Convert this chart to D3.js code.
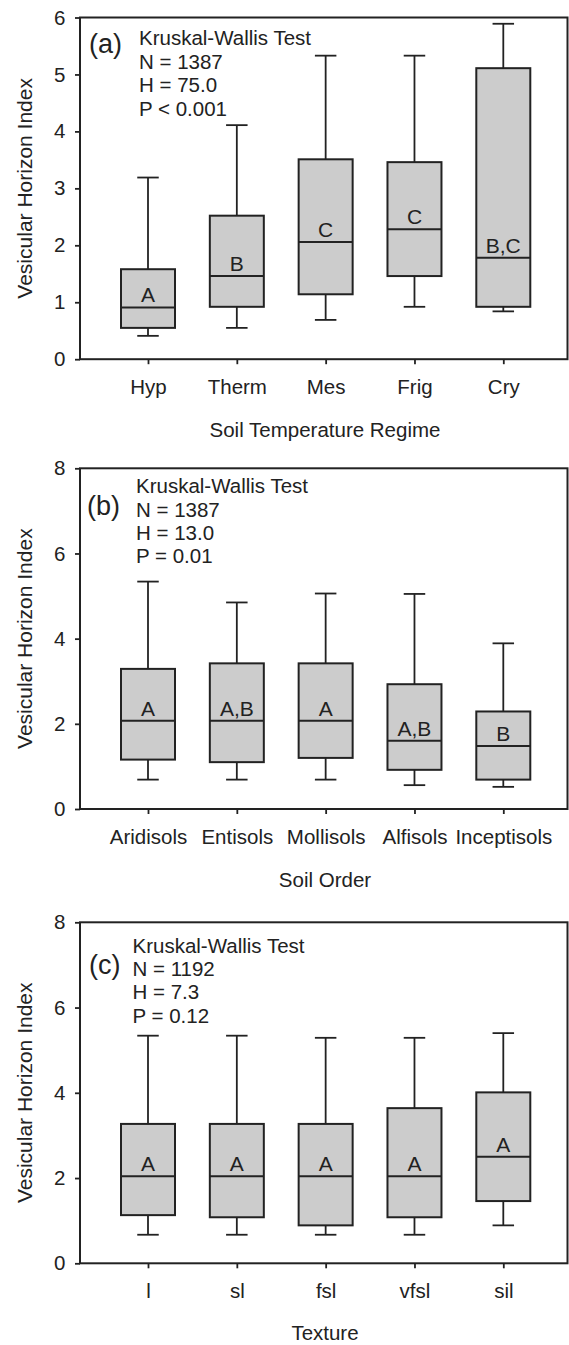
<!DOCTYPE html>
<html>
<head>
<meta charset="utf-8">
<script src="https://cdn.jsdelivr.net/npm/d3@7"></script>
<style>
  html, body { margin: 0; padding: 0; background: #fff; }
  svg { display: block; font-family: "Liberation Sans", Arial, sans-serif; }
</style>
</head>
<body>
<svg id="chart" width="569" height="1345"></svg>
<script>
// ---------- DATA ----------
const categoriesA = ["Hyp", "Therm", "Mes", "Frig", "Cry"];
const whiskerHighA = [3.19, 4.11, 5.33, 5.33, 5.89];
const q3A          = [1.58, 2.52, 3.51, 3.46, 5.11];
const medianA      = [0.91, 1.46, 2.06, 2.28, 1.78];
const q1A          = [0.55, 0.92, 1.14, 1.46, 0.92];
const whiskerLowA  = [0.41, 0.55, 0.69, 0.92, 0.84];
const lettersA     = ["A", "B", "C", "C", "B,C"];
const yTicksA      = [0, 1, 2, 3, 4, 5, 6];
const statsTextA   = ["Kruskal-Wallis Test", "N = 1387", "H = 75.0", "P < 0.001"];

const categoriesB = ["Aridisols", "Entisols", "Mollisols", "Alfisols", "Inceptisols"];
const whiskerHighB = [5.34, 4.85, 5.06, 5.05, 3.89];
const q3B          = [3.29, 3.42, 3.42, 2.93, 2.29];
const medianB      = [2.07, 2.07, 2.07, 1.60, 1.48];
const q1B          = [1.16, 1.10, 1.20, 0.92, 0.69];
const whiskerLowB  = [0.69, 0.69, 0.69, 0.56, 0.52];
const lettersB     = ["A", "A,B", "A", "A,B", "B"];
const yTicksB      = [0, 2, 4, 6, 8];
const statsTextB   = ["Kruskal-Wallis Test", "N = 1387", "H = 13.0", "P = 0.01"];

const categoriesC = ["l", "sl", "fsl", "vfsl", "sil"];
const whiskerHighC = [5.34, 5.34, 5.29, 5.29, 5.40];
const q3C          = [3.27, 3.27, 3.27, 3.64, 4.01];
const medianC      = [2.04, 2.04, 2.04, 2.04, 2.50];
const q1C          = [1.13, 1.08, 0.89, 1.08, 1.46];
const whiskerLowC  = [0.67, 0.67, 0.67, 0.67, 0.89];
const lettersC     = ["A", "A", "A", "A", "A"];
const yTicksC      = [0, 2, 4, 6, 8];
const statsTextC   = ["Kruskal-Wallis Test", "N = 1192", "H = 7.3", "P = 0.12"];

const panelLabels = ["(a)", "(b)", "(c)"];
const xTitles = ["Soil Temperature Regime", "Soil Order", "Texture"];
const yTitle = "Vesicular Horizon Index";

// ---------- LAYOUT ----------
const INK = "#222";
const FILL = "#cccccc";
const FS = 20.5;
const left = 80, right = 567.5;
const panels = [
  { cats: categoriesA, hi: whiskerHighA, q3: q3A, med: medianA, q1: q1A, lo: whiskerLowA,
    letters: lettersA, ticks: yTicksA, max: 6, stats: statsTextA, label: panelLabels[0],
    xTitle: xTitles[0], top: 17.5, bottom: 359.2,
    labelPos: [89, 53], statsPos: [139, 45], statsGap: 23.7, titleY: 437 },
  { cats: categoriesB, hi: whiskerHighB, q3: q3B, med: medianB, q1: q1B, lo: whiskerLowB,
    letters: lettersB, ticks: yTicksB, max: 8, stats: statsTextB, label: panelLabels[1],
    xTitle: xTitles[1], top: 468.3, bottom: 809,
    labelPos: [87, 515], statsPos: [136, 493.3], statsGap: 23.3, titleY: 887 },
  { cats: categoriesC, hi: whiskerHighC, q3: q3C, med: medianC, q1: q1C, lo: whiskerLowC,
    letters: lettersC, ticks: yTicksC, max: 8, stats: statsTextC, label: panelLabels[2],
    xTitle: xTitles[2], top: 922.3, bottom: 1263.3,
    labelPos: [89, 974], statsPos: [132.5, 952.7], statsGap: 23.3, titleY: 1340 }
];

const svg = d3.select("#chart");

function stext(g, x, y, str, size, anchor) {
  return g.append("text")
    .attr("x", x).attr("y", y)
    .attr("text-anchor", anchor || "start")
    .attr("font-size", size)
    .attr("fill", INK)
    .text(str);
}

panels.forEach(p => {
  const g = svg.append("g");
  const x = d3.scalePoint().domain(p.cats).range([148, 503.3]);
  const y = d3.scaleLinear().domain([0, p.max]).range([p.bottom, p.top]);
  const boxW = 54, capW = 21.5;

  // frame
  g.append("rect")
    .attr("x", left).attr("y", p.top)
    .attr("width", right - left).attr("height", p.bottom - p.top)
    .attr("fill", "none").attr("stroke", INK).attr("stroke-width", 2);

  // y axis
  const ya = g.append("g").attr("transform", `translate(${left},0)`)
    .call(d3.axisLeft(y).tickValues(p.ticks).tickSize(5).tickPadding(9.5).tickFormat(d3.format("d")));
  ya.select(".domain").remove();
  ya.selectAll(".tick line").attr("stroke", INK).attr("stroke-width", 1.8);
  ya.selectAll(".tick text")
    .attr("font-size", FS).attr("fill", INK)
    .attr("font-family", "Liberation Sans, Arial, sans-serif");

  // x axis
  const xa = g.append("g").attr("transform", `translate(0,${p.bottom})`)
    .call(d3.axisBottom(x).tickSize(5).tickPadding(15.5));
  xa.select(".domain").remove();
  xa.selectAll(".tick line").attr("stroke", INK).attr("stroke-width", 1.8);
  xa.selectAll(".tick text")
    .attr("font-size", FS).attr("fill", INK)
    .attr("font-family", "Liberation Sans, Arial, sans-serif");

  // boxes
  const rows = p.cats.map((c, i) => ({ c, hi: p.hi[i], q3: p.q3[i], med: p.med[i], q1: p.q1[i], lo: p.lo[i], L: p.letters[i] }));
  const b = g.selectAll(".box").data(rows).enter().append("g");
  b.append("line").attr("x1", d => x(d.c)).attr("x2", d => x(d.c))
    .attr("y1", d => y(d.q3)).attr("y2", d => y(d.hi))
    .attr("stroke", INK).attr("stroke-width", 1.8);
  b.append("line").attr("x1", d => x(d.c)).attr("x2", d => x(d.c))
    .attr("y1", d => y(d.q1)).attr("y2", d => y(d.lo))
    .attr("stroke", INK).attr("stroke-width", 1.8);
  b.append("line").attr("x1", d => x(d.c) - capW / 2).attr("x2", d => x(d.c) + capW / 2)
    .attr("y1", d => y(d.hi)).attr("y2", d => y(d.hi))
    .attr("stroke", INK).attr("stroke-width", 1.8);
  b.append("line").attr("x1", d => x(d.c) - capW / 2).attr("x2", d => x(d.c) + capW / 2)
    .attr("y1", d => y(d.lo)).attr("y2", d => y(d.lo))
    .attr("stroke", INK).attr("stroke-width", 1.8);
  b.append("rect")
    .attr("x", d => x(d.c) - boxW / 2).attr("width", boxW)
    .attr("y", d => y(d.q3)).attr("height", d => y(d.q1) - y(d.q3))
    .attr("fill", FILL).attr("stroke", INK).attr("stroke-width", 2);
  b.append("line").attr("x1", d => x(d.c) - boxW / 2).attr("x2", d => x(d.c) + boxW / 2)
    .attr("y1", d => y(d.med)).attr("y2", d => y(d.med))
    .attr("stroke", INK).attr("stroke-width", 2);
  b.each(function(d) {
    stext(d3.select(this), x(d.c), y(d.med) - 5, d.L, 21, "middle");
  });

  // annotations
  stext(g, p.labelPos[0], p.labelPos[1], p.label, 27, "start");
  p.stats.forEach((s, i) => stext(g, p.statsPos[0], p.statsPos[1] + i * p.statsGap, s, FS, "start"));

  // x title
  stext(g, 325, p.titleY, p.xTitle, FS, "middle");

  // y title
  g.append("text")
    .attr("transform", `translate(32,${(p.top + p.bottom) / 2}) rotate(-90)`)
    .attr("text-anchor", "middle")
    .attr("font-size", 21)
    .attr("fill", INK)
    .text(yTitle);
});
</script>
</body>
</html>
